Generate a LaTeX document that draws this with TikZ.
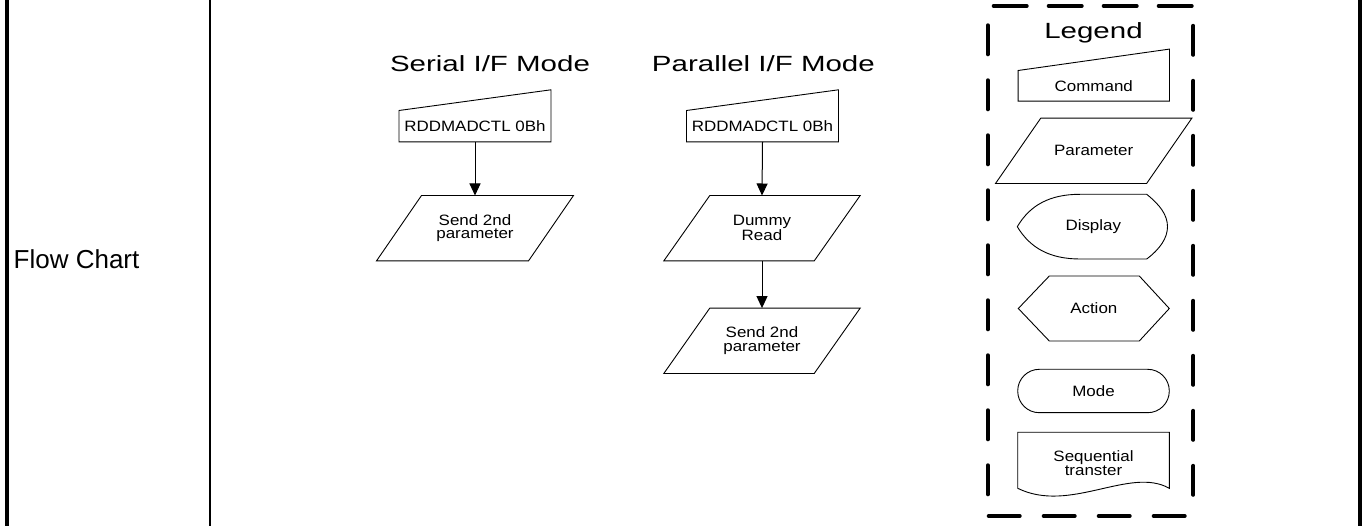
\documentclass[tikz,border=0pt]{standalone}
\usepackage{fontspec}
\setmainfont{Liberation Sans}
\newfontfamily\titlefont[FakeStretch=1.34]{Liberation Sans}
\newfontfamily\boxfont[FakeStretch=1.13]{Liberation Sans}
\usetikzlibrary{arrows.meta,calc}
\begin{document}
\begin{tikzpicture}[x=1pt,y=-1pt,
  boxtext/.style={inner sep=0pt, font=\boxfont\fontsize{15}{13.8}\selectfont, align=center},
  shapeline/.style={draw=black, line width=0.9pt, line join=miter},
  flow/.style={line width=1pt, -{Triangle[width=11pt,length=12pt]}},
  titletext/.style={font=\titlefont\fontsize{22}{26}\selectfont, anchor=base, inner sep=0pt},
  legendline/.style={line width=4pt, line cap=round}
]
\useasboundingbox (0,0) rectangle (1366,526);
\fill[white] (0,0) rectangle (1366,526);

% table frame
\draw[line width=4pt] (7,0) -- (7,526);
\draw[line width=2.3pt] (210,0) -- (210,526);
\draw[line width=3.7pt] (1360.2,0) -- (1360.2,526);
\node[anchor=base west, inner sep=0pt, font=\fontsize{26}{30}\selectfont] (fc) at (13.5,269) {Flow Chart};

% titles
\node[titletext] (ts) at (490,72) {Serial I/F Mode};
\node[titletext] (tp) at (763.4,71.7) {Parallel I/F Mode};
\node[titletext] (tl) at (1093.5,39) {Legend};

% serial flow
\node[boxtext, minimum width=151.6pt, minimum height=31pt] (sc) at (475,126.2) {RDDMADCTL 0Bh};
\draw[shapeline] (sc.south west) -- (sc.north west) -- ($(sc.north east)+(0,-20.7)$) -- (sc.south east) -- cycle;
\node[boxtext, minimum width=196.6pt, minimum height=65pt] (sp) at (475,228.2) {Send 2nd\\parameter};
\draw[shapeline] ($(sp.north west)+(45,0)$) -- (sp.north east) -- ($(sp.south east)+(-45,0)$) -- (sp.south west) -- cycle;
\draw[flow] (sc.south) -- (sp.north);

% parallel flow
\node[boxtext, minimum width=151.6pt, minimum height=31pt] (pc) at (762.5,126.2) {RDDMADCTL 0Bh};
\draw[shapeline] (pc.south west) -- (pc.north west) -- ($(pc.north east)+(0,-20.7)$) -- (pc.south east) -- cycle;
\node[boxtext, minimum width=196pt, minimum height=65pt] (pd) at (762,228.2) {Dummy\\Read};
\draw[shapeline] ($(pd.north west)+(46,0)$) -- (pd.north east) -- ($(pd.south east)+(-46,0)$) -- (pd.south west) -- cycle;
\node[boxtext, minimum width=196pt, minimum height=65pt] (ps) at (762,340.8) {Send 2nd\\parameter};
\draw[shapeline] ($(ps.north west)+(46,0)$) -- (ps.north east) -- ($(ps.south east)+(-46,0)$) -- (ps.south west) -- cycle;
\draw[flow] (pc.south) -- (pd.north);
\draw[flow] (pd.south) -- (ps.north);

% legend frame
\draw[legendline, dash pattern=on 33pt off 22pt] (993.7,6) -- (1193.3,6);
\draw[legendline, dash pattern=on 29pt off 26pt] (987.8,25.3) -- (987.8,516);
\draw[legendline, dash pattern=on 29pt off 26pt] (1193.3,25.8) -- (1193.3,516);
\draw[legendline, dash pattern=on 31pt off 24pt] (988.7,516) -- (1190,516);

% legend items
\node[boxtext, minimum width=151pt, minimum height=30.3pt] (lc) at (1093.8,85.85) {Command};
\draw[shapeline] (lc.south west) -- (lc.north west) -- ($(lc.north east)+(0,-21.4)$) -- (lc.south east) -- cycle;

\node[boxtext, minimum width=196pt, minimum height=65pt] (lp) at (1093.7,150.8) {Parameter};
\draw[shapeline] ($(lp.north west)+(45.3,0)$) -- (lp.north east) -- ($(lp.south east)+(-45.3,0)$) -- (lp.south west) -- cycle;

\node[boxtext] (ld) at (1093.3,226.7) {Display};
\draw[shapeline] (1017.3,226.7) .. controls (1030,205) and (1050,194.3) .. (1080,194.3) -- (1146.7,194.3)
  .. controls (1160,205) and (1167.5,215) .. (1167.5,226.7)
  .. controls (1167.5,238) and (1160,249) .. (1146.7,259) -- (1080,259)
  .. controls (1050,259) and (1030,248) .. cycle;

\node[boxtext] (la) at (1093.8,308.5) {Action};
\draw[shapeline] (1018.3,308.5) -- (1049.3,276) -- (1139.3,276) -- (1169.3,308.5) -- (1139.3,341) -- (1049.3,341) -- cycle;

\node[boxtext, shapeline, minimum width=151.6pt, minimum height=43.4pt, rounded corners=21.6pt] (lm) at (1093.5,391) {Mode};

\node[boxtext] (lq) at (1093.5,462.8) {Sequential\\transter};
\draw[shapeline] (1017.7,488.3) -- (1017.7,432.3) -- (1169.3,432.3) -- (1169.3,488.3)
  .. controls (1130,466) and (1070,514) .. cycle;
\end{tikzpicture}
\end{document}
